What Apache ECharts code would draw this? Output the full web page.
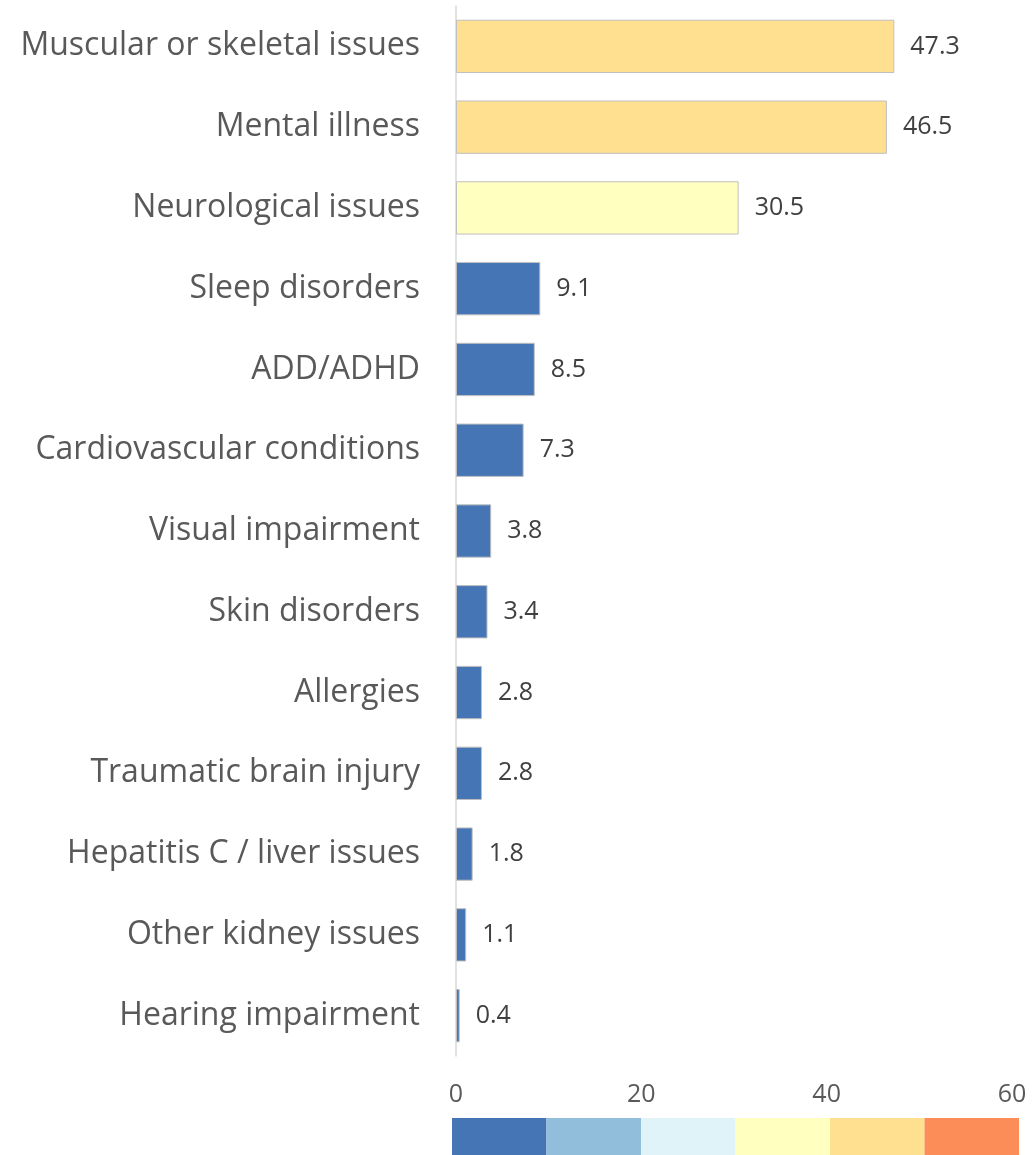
<!DOCTYPE html>
<html>
<head>
<meta charset="utf-8">
<script src="https://cdn.jsdelivr.net/npm/echarts@6/dist/echarts.min.js"></script>
<style>
  html, body { margin: 0; padding: 0; background: #fff; }
  #myChart { width: 1032px; height: 1155px; }
</style>
</head>
<body>
<div id="myChart"></div>
<script>
// data
var categories = [
  'Muscular or skeletal issues', 'Mental illness', 'Neurological issues',
  'Sleep disorders', 'ADD/ADHD', 'Cardiovascular conditions',
  'Visual impairment', 'Skin disorders', 'Allergies',
  'Traumatic brain injury', 'Hepatitis C / liver issues',
  'Other kidney issues', 'Hearing impairment'
];
var values = [47.3, 46.5, 30.5, 9.1, 8.5, 7.3, 3.8, 3.4, 2.8, 2.8, 1.8, 1.1, 0.4];
var bandEdges = [0, 10, 20, 30, 40, 50, 60];
var bandColors = ['#4575b4', '#91bfdb', '#e0f3f8', '#ffffbf', '#fee090', '#fc8d59'];

var pieces = [];
for (var i = 0; i < bandColors.length; i++) {
  pieces.push({ gte: bandEdges[i], lt: bandEdges[i + 1], color: bandColors[i] });
}

var myChart = echarts.init(document.getElementById('myChart'));
var option = {
  animation: false,
  textStyle: { fontFamily: 'Open Sans' },
  grid: { left: 456, right: 20, top: 6, bottom: 99, containLabel: false },
  xAxis: {
    type: 'value',
    min: 0,
    max: 60,
    interval: 20,
    axisLine: { show: false },
    axisTick: { show: false },
    splitLine: { show: false },
    axisLabel: { color: '#595959', fontSize: 25, margin: 26, verticalAlign: 'top' }
  },
  yAxis: {
    type: 'category',
    inverse: true,
    data: categories,
    axisLine: { lineStyle: { color: '#d9d9d9', width: 1.5 } },
    axisTick: { show: false },
    axisLabel: { color: '#595959', fontSize: 32, margin: 36 }
  },
  visualMap: {
    type: 'piecewise',
    seriesIndex: 0,
    dimension: 0,
    pieces: pieces,
    orient: 'horizontal',
    left: 452,
    bottom: 0,
    itemWidth: 94.5,
    itemHeight: 37,
    itemGap: 0,
    itemSymbol: 'rect',
    showLabel: false,
    selectedMode: false,
    hoverLink: false,
    padding: 0
  },
  series: [{
    type: 'bar',
    data: values.map(function (v, i) { return [v, categories[i]]; }),
    barCategoryGap: '34%',
    itemStyle: { borderColor: '#bfbfbf', borderWidth: 1 },
    label: {
      show: true,
      position: 'right',
      distance: 16,
      color: '#404040',
      fontSize: 25,
      formatter: function (p) { return p.value[0].toFixed(1); }
    }
  }]
};
myChart.setOption(option);
</script>
</body>
</html>
